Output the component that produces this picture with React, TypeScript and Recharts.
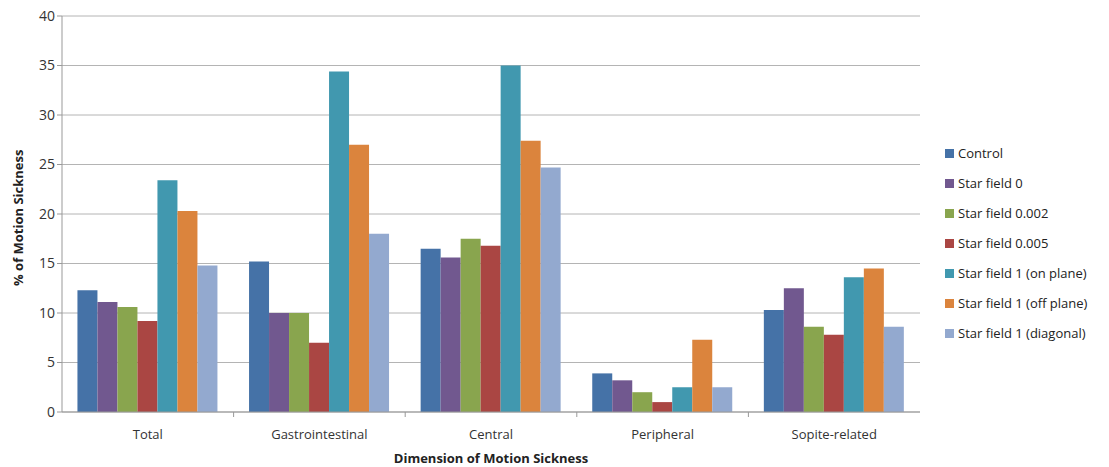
import { Bar, BarChart, CartesianGrid, XAxis, YAxis } from "recharts"

const categories = ["Total", "Gastrointestinal", "Central", "Peripheral", "Sopite-related"]

const control = [12.3, 15.2, 16.5, 3.9, 10.3]
const starField0 = [11.1, 10.0, 15.6, 3.2, 12.5]
const starField002 = [10.6, 10.0, 17.5, 2.0, 8.6]
const starField005 = [9.2, 7.0, 16.8, 1.0, 7.8]
const onPlane = [23.4, 34.4, 35.0, 2.5, 13.6]
const offPlane = [20.3, 27.0, 27.4, 7.3, 14.5]
const diagonal = [14.8, 18.0, 24.7, 2.5, 8.6]

const yTicks = [0, 5, 10, 15, 20, 25, 30, 35, 40]

const series = [
  { key: "Control", values: control, color: "#4572A7" },
  { key: "Star field 0", values: starField0, color: "#71588F" },
  { key: "Star field 0.002", values: starField002, color: "#89A54E" },
  { key: "Star field 0.005", values: starField005, color: "#AA4643" },
  { key: "Star field 1 (on plane)", values: onPlane, color: "#4198AF" },
  { key: "Star field 1 (off plane)", values: offPlane, color: "#DB843D" },
  { key: "Star field 1 (diagonal)", values: diagonal, color: "#93A9CF" },
]

const data = categories.map((name, i) => {
  const row: Record<string, string | number> = { name }
  series.forEach((s) => {
    row[s.key] = s.values[i]
  })
  return row
})

const FONT = "'Open Sans', 'DejaVu Sans', sans-serif"

const CHART_W = 1109
const CHART_H = 467
const MARGIN = { top: 16, right: 189, bottom: 0, left: 2 }
const BAND = (CHART_W - 62 - MARGIN.right) / categories.length

function CategoryTick(props: any) {
  const { x, y, payload, index } = props
  return (
    <g>
      {index > 0 && (
        <line x1={x - BAND / 2} x2={x - BAND / 2} y1={y - 8} y2={y - 3} stroke="#999" />
      )}
      <text x={x} y={y + 19} textAnchor="middle" fontSize={13} fill="#333" fontFamily={FONT}>
        {payload.value}
      </text>
    </g>
  )
}

function LegendBox() {
  return (
    <div style={{ position: "absolute", left: 945, top: 138, fontFamily: FONT, fontSize: 13, color: "#222" }}>
      {series.map((s) => (
        <div key={s.key} style={{ display: "flex", alignItems: "center", height: 30, whiteSpace: "nowrap" }}>
          <span
            style={{ display: "inline-block", width: 9, height: 9, background: s.color, marginRight: 4 }}
          />
          {s.key}
        </div>
      ))}
    </div>
  )
}

export default function App() {
  return (
    <div style={{ position: "absolute", left: 0, top: 0, width: CHART_W, height: CHART_H, background: "#fff" }}>
      <BarChart width={CHART_W} height={CHART_H} data={data} margin={MARGIN} barGap={0} barCategoryGap="9%">
        <CartesianGrid vertical={false} stroke="#b4b4b4" />
        <XAxis
          dataKey="name"
          stroke="#999"
          height={55}
          tickLine={false}
          tick={<CategoryTick />}
          interval={0}
          label={{
            value: "Dimension of Motion Sickness",
            position: "insideBottom",
            offset: 4,
            style: { fontWeight: 700, fontSize: 13, fill: "#222", fontFamily: FONT },
          }}
        />
        <YAxis
          domain={[0, 40]}
          ticks={yTicks}
          width={60}
          stroke="#999"
          tickSize={5}
          tick={{ fontSize: 14, fill: "#333", fontFamily: FONT }}
          label={{
            value: "% of Motion Sickness",
            angle: -90,
            position: "insideLeft",
            offset: 16,
            dy: 72,
            style: { fontWeight: 700, fontSize: 13, fill: "#222", fontFamily: FONT },
          }}
        />
        {series.map((s) => (
          <Bar key={s.key} dataKey={s.key} fill={s.color} isAnimationActive={false} />
        ))}
      </BarChart>
      <LegendBox />
    </div>
  )
}
